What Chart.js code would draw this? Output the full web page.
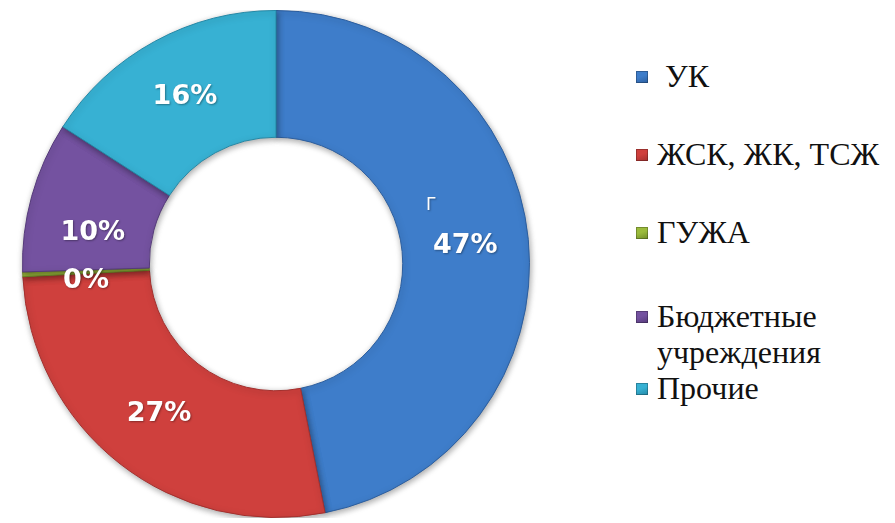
<!DOCTYPE html>
<html>
<head>
<meta charset="utf-8">
<script src="https://cdn.jsdelivr.net/npm/chart.js@4/dist/chart.umd.min.js"></script>
<style>
  html, body { margin: 0; padding: 0; background: #ffffff; }
  body { width: 895px; height: 523px; position: relative; overflow: hidden; }
  #chartBox { position: absolute; left: 0; top: 10px; width: 552px; height: 508px; }
  #legend { position: absolute; left: 636px; top: 58px; width: 255px;
            font-family: "Liberation Serif", "Times New Roman", serif; font-size: 32px;
            line-height: 36px; color: #111; }
  .item { display: flex; align-items: flex-start; }
  .item:nth-child(2) { margin-top: 42px; }
  .item:nth-child(3) { margin-top: 42px; }
  .item:nth-child(4) { margin-top: 48px; }
  .item:nth-child(5) { margin-top: 0px; }
  .box { flex: 0 0 12px; width: 12px; height: 12px; margin-top: 13px; margin-right: 9px;
         box-shadow: inset 0 0 0 1px rgba(0,0,0,0.25); }
  .txt { white-space: pre-wrap; width: 230px; }
</style>
</head>
<body>
<div id="chartBox"><canvas id="c"></canvas></div>
<div id="legend"></div>
<script>
const categories = [" УК", "ЖСК, ЖК, ТСЖ", "ГУЖА", "Бюджетные учреждения", "Прочие"];
const shares = [46.9, 27.3, 0.3, 9.6, 15.9];
const colors = ["#3E7DCA", "#CF403D", "#9BBB3C", "#7452A0", "#37B1D3"];
const darkColors = ["#2C5E9E", "#A3302E", "#6E8A28", "#553A7A", "#2488A6"];
const strayText = "Г";

// legend (HTML, built from the arrays)
const legendEl = document.getElementById('legend');
categories.forEach((name, i) => {
  const it = document.createElement('div');
  it.className = 'item';
  const b = document.createElement('span');
  b.className = 'box';
  b.style.background = `linear-gradient(160deg, ${colors[i]} 0%, ${colors[i]} 45%, ${darkColors[i]} 100%)`;
  const t = document.createElement('span');
  t.className = 'txt';
  t.textContent = name;
  it.appendChild(b); it.appendChild(t);
  legendEl.appendChild(it);
});

function ringGradient(context, i) {
  const chart = context.chart;
  const meta = chart.getDatasetMeta(0);
  const arc = meta.data[context.dataIndex];
  if (!arc || !arc.outerRadius) return colors[i];
  const { x, y, innerRadius, outerRadius } = arc.getProps(['x','y','innerRadius','outerRadius'], true);
  const g = chart.ctx.createRadialGradient(x, y, innerRadius, x, y, outerRadius);
  g.addColorStop(0, darkColors[i]);
  g.addColorStop(0.06, colors[i]);
  g.addColorStop(0.9, colors[i]);
  g.addColorStop(1, darkColors[i]);
  return g;
}

const shadowPlugin = {
  id: 'ringShadow',
  beforeDatasetsDraw(chart) {
    const ctx = chart.ctx;
    ctx.save();
    ctx.shadowColor = 'rgba(0,0,0,0.35)';
    ctx.shadowBlur = 6;
    ctx.shadowOffsetX = 1;
    ctx.shadowOffsetY = 2;
  },
  afterDatasetsDraw(chart) {
    chart.ctx.restore();
  }
};

const labelPlugin = {
  id: 'pctLabels',
  afterDraw(chart) {
    const ctx = chart.ctx;
    const meta = chart.getDatasetMeta(0);
    const data = chart.data.datasets[0].data;
    const total = data.reduce((a, b) => a + b, 0);
    ctx.save();
    ctx.textAlign = 'center';
    ctx.textBaseline = 'middle';
    ctx.fillStyle = '#ffffff';
    ctx.shadowColor = 'rgba(0,0,0,0.35)';
    ctx.shadowBlur = 2;
    ctx.shadowOffsetX = 1;
    ctx.shadowOffsetY = 1;
    meta.data.forEach((arc, i) => {
      const p = arc.tooltipPosition();
      ctx.font = 'bold 27px "DejaVu Sans", sans-serif';
      const txt = Math.round(data[i] / total * 100) + '%';
      let yy = p.y;
      if (i === 2) yy += 9;
      if (i === 3) yy += 20;
      ctx.fillText(txt, p.x, yy);
      if (i === 0) {
        ctx.font = '17px "DejaVu Sans", sans-serif';
        ctx.fillText(strayText, p.x - 34, p.y - 40);
      }
    });
    ctx.restore();
  }
};

new Chart(document.getElementById('c'), {
  type: 'doughnut',
  data: {
    labels: categories,
    datasets: [{
      data: shares,
      backgroundColor: (ctx) => ringGradient(ctx, ctx.dataIndex),
      borderColor: darkColors,
      borderWidth: 1
    }]
  },
  options: {
    responsive: true,
    maintainAspectRatio: false,
    animation: false,
    cutout: '50%',
    rotation: 0,
    layout: { padding: 0 },
    plugins: { legend: { display: false }, tooltip: { enabled: false } }
  },
  plugins: [shadowPlugin, labelPlugin]
});
</script>
</body>
</html>
